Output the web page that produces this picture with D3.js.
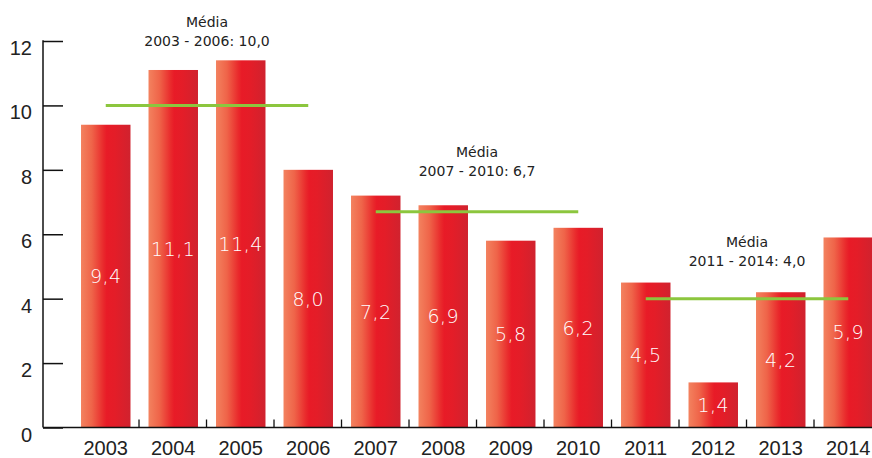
<!DOCTYPE html>
<html>
<head>
<meta charset="utf-8">
<script src="https://cdn.jsdelivr.net/npm/d3@7"></script>
<style>
  html, body { margin: 0; padding: 0; background: #fff; }
  svg { display: block; }
</style>
</head>
<body>
<svg id="chart" width="872" height="458"></svg>
<script>
// Annual values per year
const years = ["2003","2004","2005","2006","2007","2008","2009","2010","2011","2012","2013","2014"];
const values = [9.4, 11.1, 11.4, 8.0, 7.2, 6.9, 5.8, 6.2, 4.5, 1.4, 4.2, 5.9];
const valueLabels = ["9,4","11,1","11,4","8,0","7,2","6,9","5,8","6,2","4,5","1,4","4,2","5,9"];
const yTicks = [0, 2, 4, 6, 8, 10, 12];

// Period averages
const avgFrom = ["2003", "2007", "2011"];
const avgTo = ["2006", "2010", "2014"];
const avgValues = [10.0, 6.7, 4.0];
const avgTitles = ["Média", "Média", "Média"];
const avgLabels = ["2003 - 2006: 10,0", "2007 - 2010: 6,7", "2011 - 2014: 4,0"];

const svg = d3.select("#chart");

const step = 67.5;
const x = d3.scaleBand()
  .domain(years)
  .range([72, 72 + step * years.length])
  .paddingInner(0.267)
  .paddingOuter(0.1335);

const y = d3.scaleLinear().domain([0, 12]).range([427.5, 41]);

// bar gradient: light salmon on the left to deep red on the right
const defs = svg.append("defs");
const grad = defs.append("linearGradient")
  .attr("id", "barGrad").attr("x1", "0%").attr("x2", "100%").attr("y1", "0%").attr("y2", "0%");
[["0%", "#f3825f"], ["22%", "#ef6449"], ["45%", "#e92a2c"], ["52%", "#e81b27"], ["68%", "#e41d28"], ["100%", "#d0222e"]]
  .forEach(([o, c]) => grad.append("stop").attr("offset", o).attr("stop-color", c));

// bars
svg.append("g").selectAll("rect")
  .data(years)
  .join("rect")
  .attr("x", d => x(d))
  .attr("width", x.bandwidth())
  .attr("y", (d, i) => y(values[i]))
  .attr("height", (d, i) => y(0) - y(values[i]))
  .attr("fill", "url(#barGrad)");

// value labels centred in each bar
svg.append("g").selectAll("text")
  .data(years)
  .join("text")
  .attr("x", d => x(d) + x.bandwidth() / 2)
  .attr("y", (d, i) => (y(values[i]) + y(0)) / 2 + 7)
  .attr("text-anchor", "middle")
  .attr("fill", "#fff")
  .style("font-family", "'DejaVu Sans', sans-serif")
  .style("font-size", "19px")
  .style("font-weight", "300")
  .style("letter-spacing", "0.5px")
  .text((d, i) => valueLabels[i]);

// y axis
const yAxis = d3.axisRight(y).tickValues(yTicks).tickSize(20).tickFormat("");
const yg = svg.append("g").attr("transform", "translate(43,0)").call(yAxis);
yg.select(".domain").remove();
yg.selectAll(".tick line").attr("stroke", "#111").attr("stroke-width", 1.5);
svg.append("line")
  .attr("x1", 43).attr("x2", 43).attr("y1", y(12) - 0.75).attr("y2", y(0))
  .attr("stroke", "#111").attr("stroke-width", 1.5);

svg.append("g").selectAll("text")
  .data(yTicks)
  .join("text")
  .attr("x", 32)
  .attr("y", d => y(d) + 14)
  .attr("text-anchor", "end")
  .attr("fill", "#222")
  .style("font-family", "'Liberation Sans', Arial, sans-serif")
  .style("font-size", "20px")
  .text(d => d);

// x axis baseline with small separators between bars
svg.append("line")
  .attr("x1", 43).attr("x2", 872).attr("y1", y(0)).attr("y2", y(0))
  .attr("stroke", "#111").attr("stroke-width", 1.5);

svg.append("g").selectAll("line")
  .data(years.slice(1))
  .join("line")
  .attr("x1", d => x(d) - 9.5).attr("x2", d => x(d) - 9.5)
  .attr("y1", y(0)).attr("y2", y(0) - 8)
  .attr("stroke", "#111").attr("stroke-width", 1.3);

svg.append("g").selectAll("text")
  .data(years)
  .join("text")
  .attr("x", d => x(d) + x.bandwidth() / 2)
  .attr("y", 455)
  .attr("text-anchor", "middle")
  .attr("fill", "#222")
  .style("font-family", "'Liberation Sans', Arial, sans-serif")
  .style("font-size", "20px")
  .text(d => d);

// average lines
const center = d => x(d) + x.bandwidth() / 2;
svg.append("g").selectAll("line")
  .data(avgValues)
  .join("line")
  .attr("x1", (d, i) => center(avgFrom[i]))
  .attr("x2", (d, i) => center(avgTo[i]))
  .attr("y1", d => y(d)).attr("y2", d => y(d))
  .attr("stroke", "#8cc63e").attr("stroke-width", 3);

// average captions
const captionOffset = [59, 36, 33];
const cap = svg.append("g")
  .style("font-family", "'DejaVu Sans', sans-serif")
  .style("font-size", "14px")
  .attr("fill", "#222");
avgValues.forEach((v, i) => {
  const cx = (center(avgFrom[i]) + center(avgTo[i])) / 2;
  const base = y(v) - captionOffset[i];
  cap.append("text").attr("x", cx).attr("y", base - 19)
    .attr("text-anchor", "middle").text(avgTitles[i]);
  cap.append("text").attr("x", cx).attr("y", base)
    .attr("text-anchor", "middle").text(avgLabels[i]);
});
</script>
</body>
</html>
